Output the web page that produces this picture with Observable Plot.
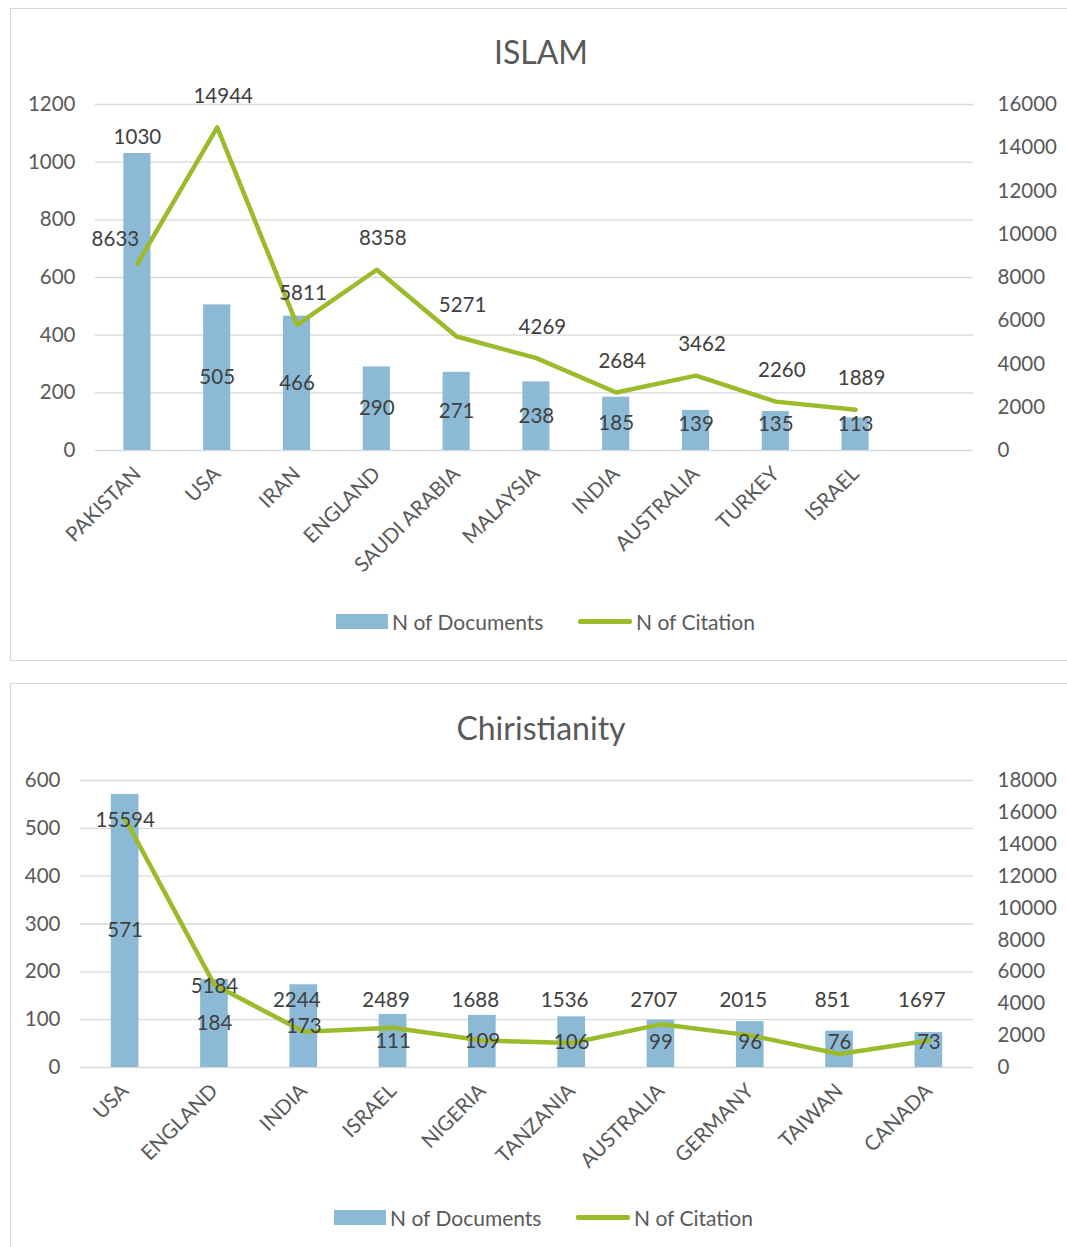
<!DOCTYPE html>
<html><head><meta charset="utf-8">
<script src="https://cdn.jsdelivr.net/npm/d3@7"></script>
<script src="https://cdn.jsdelivr.net/npm/@observablehq/plot@0.6"></script>
<style>
body{margin:0;background:#fff;font-family:Lato,sans-serif;width:1067px;height:1247px;position:relative;overflow:hidden}
.panel{position:absolute;border:1.5px solid #d9d9d9;box-sizing:border-box;background:#fff}
.title{position:absolute;transform:translate(-50%,-50%);color:#595959;font-size:32px;white-space:nowrap}
.chart{position:absolute;left:0}
.leg{position:absolute;color:#595959;font-size:21px;white-space:nowrap;transform:translateY(-50%)}
.sw{position:absolute}
</style></head>
<body>
<div class="panel" style="left:10px;top:8px;width:1080px;height:653px"></div>
<div class="panel" style="left:10px;top:683px;width:1080px;height:600px"></div>
<div class="title" style="left:541px;top:51px">ISLAM</div>
<div class="title" style="left:541px;top:727px">Chiristianity</div>
<div id="c1" class="chart" style="top:80px"></div>
<div id="c2" class="chart" style="top:755px"></div>
<div class="sw" style="left:336px;top:614px;width:52px;height:15px;background:#8cbad6"></div>
<div class="leg" style="left:392px;top:621px">N of Documents</div>
<div class="sw" style="left:578px;top:619px;width:54px;height:5px;background:#9bbb2a;border-radius:2px"></div>
<div class="leg" style="left:636px;top:621px">N of Citation</div>
<div class="sw" style="left:334px;top:1210px;width:52px;height:15px;background:#8cbad6"></div>
<div class="leg" style="left:390px;top:1217px">N of Documents</div>
<div class="sw" style="left:576px;top:1215px;width:54px;height:5px;background:#9bbb2a;border-radius:2px"></div>
<div class="leg" style="left:634px;top:1217px">N of Citation</div>
<script>
// ---- ISLAM ----
const islamCountries = ["PAKISTAN","USA","IRAN","ENGLAND","SAUDI ARABIA","MALAYSIA","INDIA","AUSTRALIA","TURKEY","ISRAEL"];
const islamDocs = [1030,505,466,290,271,238,185,139,135,113];
const islamCites = [8633,14944,5811,8358,5271,4269,2684,3462,2260,1889];
const islamLeftTicks = [0,200,400,600,800,1000,1200];
const islamRightTicks = [0,2000,4000,6000,8000,10000,12000,14000,16000];

// ---- CHRISTIANITY ----
const chrCountries = ["USA","ENGLAND","INDIA","ISRAEL","NIGERIA","TANZANIA","AUSTRALIA","GERMANY","TAIWAN","CANADA"];
const chrDocs = [571,184,173,111,109,106,99,96,76,73];
const chrCites = [15594,5184,2244,2489,1688,1536,2707,2015,851,1697];
const chrLeftTicks = [0,100,200,300,400,500,600];
const chrRightTicks = [0,2000,4000,6000,8000,10000,12000,14000,16000,18000];

const BAR = "#8cbad6", LINE = "#9bbb2a", GRID = "#d9d9d9", TXT = "#595959", LBL = "#404040";
const FS = 20.5;

function makeChart(el, cfg) {
  const {countries, docs, cites, leftTicks, rightTicks} = cfg;
  const leftMax = leftTicks[leftTicks.length-1], rightMax = rightTicks[rightTicks.length-1];
  const k = leftMax / rightMax;
  const plotH = cfg.height - cfg.mt - cfg.mb;
  const upx = leftMax / plotH; // data units per pixel
  const minUnits = cfg.minLabelPx * upx;
  const data = countries.map((c,i)=>({c, docs: docs[i], cites: cites[i], i}));
  const maxDocs = d3.max(docs);
  const above = d => cfg.maxAbove && d.docs === maxDocs;
  const citeMarks = cfg.citeGroups.map(g => Plot.text(data.filter(g.test), {x: "c",
    y: d => g.level != null ? Math.max(d.cites * k + g.gap * upx, g.level * upx) : d.cites * k,
    dx: g.dx, dy: g.dy || 0, text: d => String(d.cites), fill: LBL, fontSize: FS}));
  const chart = Plot.plot({
    width: 1067, height: cfg.height,
    marginTop: cfg.mt, marginBottom: cfg.mb, marginLeft: cfg.ml, marginRight: cfg.mr,
    style: {fontFamily: "Lato, sans-serif", color: TXT, background: "transparent", overflow: "visible"},
    x: {domain: countries, range: cfg.xRange, paddingInner: cfg.pad, paddingOuter: cfg.pad/2, round: false},
    y: {domain: [0, leftMax]},
    marks: [
      Plot.ruleY(leftTicks, {stroke: GRID, strokeWidth: 1.3}),
      Plot.barY(data, {x: "c", y: "docs", fill: BAR}),
      Plot.line(data, {x: "c", y: d => d.cites * k, stroke: LINE, strokeWidth: 4.5, strokeLinejoin: "round", strokeLinecap: "round"}),
      Plot.text(data.filter(d => !above(d)), {x: "c", y: d => Math.max(d.docs/2, minUnits),
        text: d => String(d.docs), fill: LBL, fontSize: FS}),
      Plot.text(data.filter(above), {x: "c", y: "docs", dy: -16,
        text: d => String(d.docs), fill: LBL, fontSize: FS}),
      ...citeMarks,
      Plot.axisY({ticks: leftTicks, tickFormat: d => String(d), tickSize: 0, tickPadding: 20, label: null, fontSize: FS}),
      Plot.axisY({anchor: "right", ticks: rightTicks.map(v => v*k), tickFormat: d => String(Math.round(d/k)), tickSize: 0, tickPadding: 24, label: null, fontSize: FS}),
      Plot.axisX({tickRotate: -45, tickSize: 0, tickPadding: 20, label: null, fontSize: 20.5})
    ]
  });
  document.getElementById(el).appendChild(chart);
}

makeChart("c1", {countries: islamCountries, docs: islamDocs, cites: islamCites,
  leftTicks: islamLeftTicks, rightTicks: islamRightTicks,
  height: 510, mt: 24, mb: 140, ml: 95, mr: 94, xRange: [97, 895], pad: 0.66,
  minLabelPx: 26, maxAbove: true,
  citeGroups: [
    {test: d => d.i === 0, dx: -22, dy: -24},
    {test: d => d.i > 0, dx: 6, dy: -31}
  ]});

makeChart("c2", {countries: chrCountries, docs: chrDocs, cites: chrCites,
  leftTicks: chrLeftTicks, rightTicks: chrRightTicks,
  height: 430, mt: 25, mb: 118, ml: 80, mr: 94, xRange: [80, 973], pad: 0.69,
  minLabelPx: 25, maxAbove: false,
  citeGroups: [
    {test: d => d.i < 2, dx: 0, dy: 2},
    {test: d => d.i >= 2, dx: -7, gap: 22, level: 67}
  ]});
</script>
</body></html>
